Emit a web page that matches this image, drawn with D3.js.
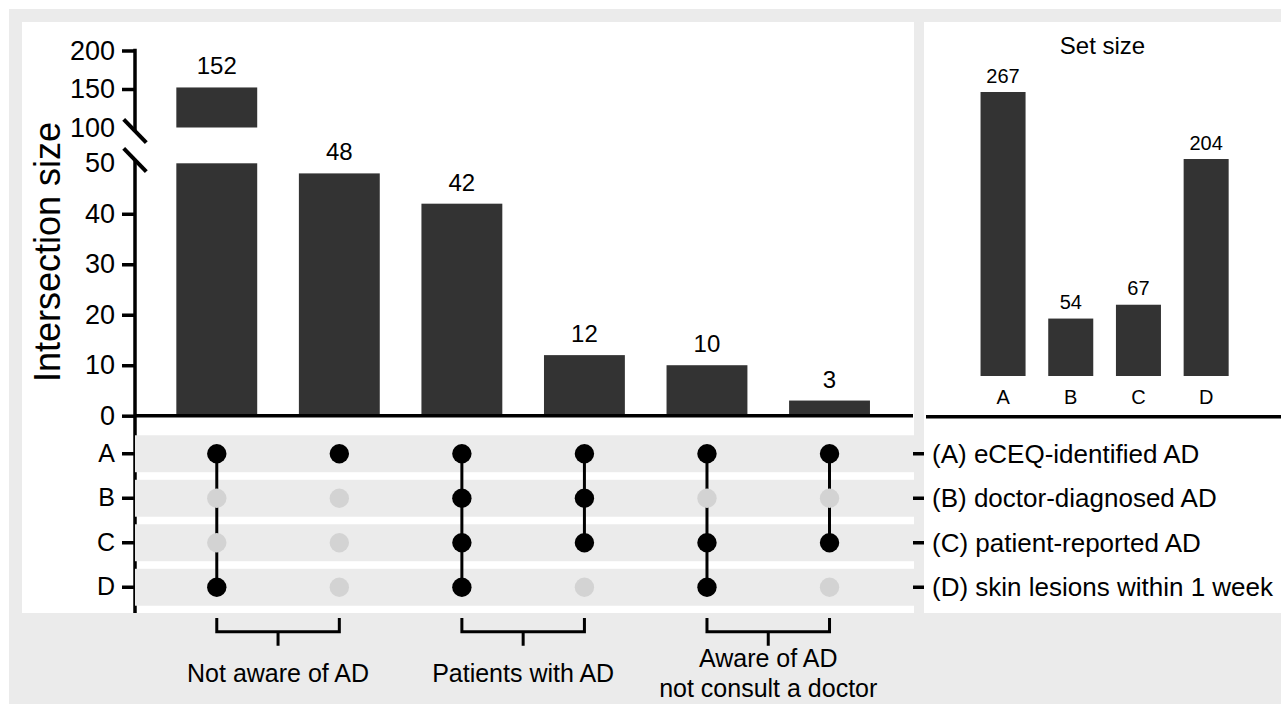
<!DOCTYPE html>
<html>
<head>
<meta charset="utf-8">
<script src="https://cdn.jsdelivr.net/npm/d3@7"></script>
<style>
  body { margin: 0; background: #fff; }
  text { font-family: "Liberation Sans", Arial, Helvetica, sans-serif; fill: #000; }
</style>
</head>
<body>
<svg id="chart" width="1281" height="704"></svg>
<script>
// ---- data ----
var intersectionMembers = [["A", "D"], ["A"], ["A", "B", "C", "D"], ["A", "B", "C"], ["A", "C", "D"], ["A", "C"]];
var intersectionSizes = [152, 48, 42, 12, 10, 3];
var setKeys = ["A", "B", "C", "D"];
var setSizes = [267, 54, 67, 204];
var setLabels = ["(A) eCEQ-identified AD", "(B) doctor-diagnosed AD", "(C) patient-reported AD", "(D) skin lesions within 1 week"];
var lowerTicks = [0, 10, 20, 30, 40, 50];
var upperTicks = [100, 150, 200];
var groupColumns = [[0, 1], [2, 3], [4, 5]];
var groupLabels = [["Not aware of AD"], ["Patients with AD"], ["Aware of AD", "not consult a doctor"]];

var BAR = "#333333", BG = "#ebebeb", OFF = "#d3d3d3";

var svg = d3.select("#chart");

// background + white panels
svg.append("rect").attr("x", 9).attr("y", 9).attr("width", 1272).attr("height", 695).attr("fill", BG);
svg.append("rect").attr("x", 22).attr("y", 22).attr("width", 892).attr("height", 591).attr("fill", "#fff");
svg.append("rect").attr("x", 924).attr("y", 22).attr("width", 357).attr("height", 591).attr("fill", "#fff");

// ---- scales ----
var axisX = 135;
var cols = d3.range(intersectionSizes.length);
var x = d3.scaleBand().domain(cols).range([155.5, 890.8]).paddingInner(0.34).paddingOuter(0.17);
var yLow = d3.scaleLinear().domain([0, 50]).range([415.7, 163.3]);
var yHigh = d3.scaleLinear().domain([100, 200]).range([127.5, 50.5]);
var rows = d3.scaleBand().domain(setKeys).range([431.5, 609.5]).paddingInner(0.17).paddingOuter(0.085);
var matrixBottom = 613;

// ---- intersection bars ----
var bars = svg.append("g");
intersectionSizes.forEach(function (v, i) {
  var lowTop = yLow(Math.min(v, 50));
  bars.append("rect")
    .attr("x", x(i)).attr("width", x.bandwidth())
    .attr("y", lowTop).attr("height", yLow(0) - lowTop)
    .attr("fill", BAR);
  if (v > 100) {
    bars.append("rect")
      .attr("x", x(i)).attr("width", x.bandwidth())
      .attr("y", yHigh(v)).attr("height", yHigh(100) - yHigh(v))
      .attr("fill", BAR);
  }
  bars.append("text")
    .attr("x", x(i) + x.bandwidth() / 2)
    .attr("y", (v > 100 ? yHigh(v) : yLow(v)) - 13)
    .attr("text-anchor", "middle")
    .style("font-size", "24px")
    .text(v);
});

// ---- broken y axis ----
function styleAxis(g, skip, size) {
  g.select(".domain").remove();
  g.selectAll(".tick line").attr("stroke", "#000").attr("stroke-width", 3.5)
    .filter(function (d) { return d === skip; }).remove();
  g.selectAll(".tick text").style("font-size", size).attr("font-family", null);
}
svg.append("g").attr("transform", "translate(" + axisX + ",0)")
  .call(d3.axisLeft(yLow).tickValues(lowerTicks).tickSize(13).tickPadding(7))
  .call(styleAxis, 50, "27px");
svg.append("g").attr("transform", "translate(" + axisX + ",0)")
  .call(d3.axisLeft(yHigh).tickValues(upperTicks).tickSize(13).tickPadding(7))
  .call(styleAxis, 100, "27px");

var axisLines = svg.append("g").attr("stroke", "#000").attr("stroke-width", 3.5);
axisLines.append("line").attr("x1", axisX).attr("x2", axisX)
  .attr("y1", yHigh(200) - 1.75).attr("y2", yHigh(100) + 3);
axisLines.append("line").attr("x1", axisX).attr("x2", axisX)
  .attr("y1", yLow(50) - 3).attr("y2", matrixBottom);
// break marks
[yHigh(100) + 3.5, yLow(50) - 3.3].forEach(function (cy) {
  axisLines.append("line")
    .attr("x1", axisX - 11.3).attr("y1", cy - 11.7)
    .attr("x2", axisX + 11.3).attr("y2", cy + 11.7)
    .attr("stroke-width", 4);
});
// baseline
axisLines.append("line").attr("x1", axisX).attr("x2", 913)
  .attr("y1", yLow(0)).attr("y2", yLow(0));

svg.append("text")
  .attr("transform", "translate(60,252) rotate(-90)")
  .attr("text-anchor", "middle")
  .style("font-size", "36px")
  .text("Intersection size");

// ---- matrix ----
var matrix = svg.append("g");
matrix.selectAll("rect.band").data(setKeys).enter().append("rect")
  .attr("x", axisX).attr("width", 915 - axisX)
  .attr("y", function (d) { return rows(d); })
  .attr("height", rows.bandwidth())
  .attr("fill", BG);

function rowY(k) { return rows(k) + rows.bandwidth() / 2; }

intersectionMembers.forEach(function (members, i) {
  var cx = x(i) + x.bandwidth() / 2;
  if (members.length > 1) {
    var ys = members.map(rowY);
    matrix.append("line")
      .attr("x1", cx).attr("x2", cx)
      .attr("y1", d3.min(ys)).attr("y2", d3.max(ys))
      .attr("stroke", "#000").attr("stroke-width", 3);
  }
  setKeys.forEach(function (k) {
    matrix.append("circle")
      .attr("cx", cx).attr("cy", rowY(k)).attr("r", 9.7)
      .attr("fill", members.indexOf(k) >= 0 ? "#000" : OFF);
  });
});

svg.append("g").attr("transform", "translate(" + axisX + ",0)")
  .call(d3.axisLeft(rows).tickSize(13).tickPadding(7))
  .call(styleAxis, null, "25px");

// right-hand row labels
var rightLabels = svg.append("g");
setKeys.forEach(function (k, i) {
  rightLabels.append("line")
    .attr("x1", 913).attr("x2", 924)
    .attr("y1", rowY(k)).attr("y2", rowY(k))
    .attr("stroke", "#000").attr("stroke-width", 3.5);
  rightLabels.append("text")
    .attr("x", 932).attr("y", rowY(k)).attr("dy", "0.35em")
    .style("font-size", "26px")
    .text(setLabels[i]);
});

// ---- group brackets ----
var brackets = svg.append("g");
groupColumns.forEach(function (gc, gi) {
  var x0 = x(gc[0]) + x.bandwidth() / 2;
  var x1 = x(gc[gc.length - 1]) + x.bandwidth() / 2;
  var mid = (x0 + x1) / 2;
  brackets.append("path")
    .attr("d", "M" + x0 + ",618V631.7H" + x1 + "V618M" + mid + ",631.7V645.7")
    .attr("fill", "none").attr("stroke", "#000").attr("stroke-width", 3);
  var lines = groupLabels[gi];
  lines.forEach(function (t, li) {
    brackets.append("text")
      .attr("x", mid)
      .attr("y", 681.7 + (li - (lines.length - 1) / 2) * 30)
      .attr("text-anchor", "middle")
      .style("font-size", "25px")
      .text(t);
  });
});

// ---- set size panel ----
var sx = d3.scaleBand().domain(setKeys).range([969.2, 1240]).paddingInner(0.335).paddingOuter(0.1675);
var sy = d3.scaleLinear().domain([0, 300]).range([376, 56.9]);
var setPanel = svg.append("g");
setPanel.append("text")
  .attr("x", 1102.5).attr("y", 54)
  .attr("text-anchor", "middle")
  .style("font-size", "24px")
  .text("Set size");
setKeys.forEach(function (k, i) {
  setPanel.append("rect")
    .attr("x", sx(k)).attr("width", sx.bandwidth())
    .attr("y", sy(setSizes[i])).attr("height", sy(0) - sy(setSizes[i]))
    .attr("fill", BAR);
  setPanel.append("text")
    .attr("x", sx(k) + sx.bandwidth() / 2)
    .attr("y", sy(setSizes[i]) - 9.5)
    .attr("text-anchor", "middle")
    .style("font-size", "20px")
    .text(setSizes[i]);
  setPanel.append("text")
    .attr("x", sx(k) + sx.bandwidth() / 2)
    .attr("y", 404)
    .attr("text-anchor", "middle")
    .style("font-size", "20px")
    .text(k);
});
setPanel.append("line")
  .attr("x1", 926).attr("x2", 1281).attr("y1", 416.7).attr("y2", 416.7)
  .attr("stroke", "#000").attr("stroke-width", 3.5);
</script>
</body>
</html>
